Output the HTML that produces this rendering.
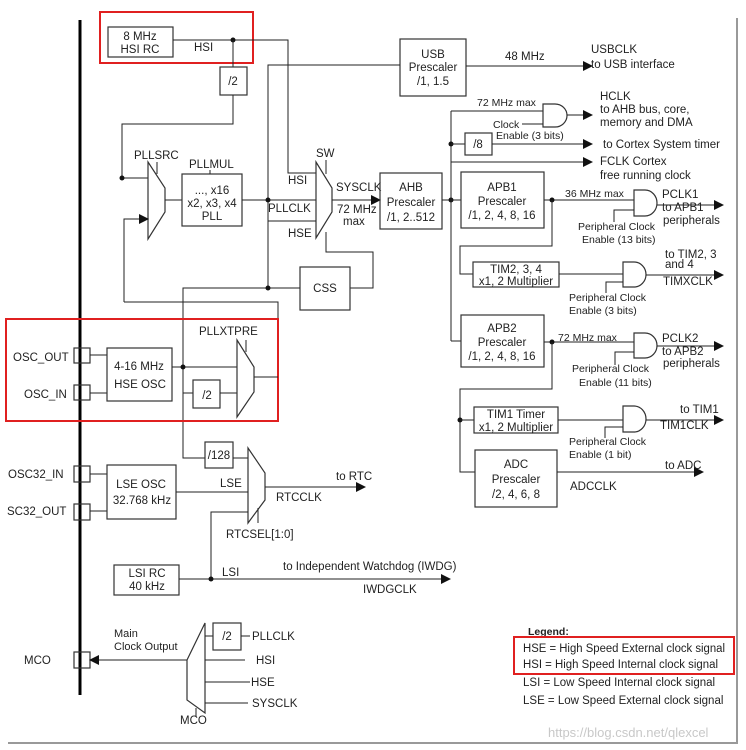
<!DOCTYPE html>
<html><head><meta charset="utf-8"><style>
html,body{margin:0;padding:0;background:#fff;}
svg{display:block;font-family:"Liberation Sans",Arial,sans-serif;}
text{font-size:11.5px;fill:#222;}
.b{fill:none;stroke:#333;stroke-width:1.2;}
.l{fill:none;stroke:#222;stroke-width:1;}
.r{fill:none;stroke:#e02020;stroke-width:2;}
.c{text-anchor:middle;}
</style></head><body>
<svg width="746" height="750" viewBox="0 0 746 750" xmlns="http://www.w3.org/2000/svg">
<defs><marker id="a" markerWidth="10" markerHeight="10" refX="9" refY="5" orient="auto" markerUnits="userSpaceOnUse"><path d="M0,0 L10,5 L0,10 Z" fill="#111"/></marker></defs>
<line x1="737" y1="18" x2="737" y2="744" stroke="#999" stroke-width="2"/>
<line x1="8" y1="743" x2="737" y2="743" stroke="#999" stroke-width="2"/>
<line x1="80" y1="20" x2="80" y2="695" stroke="#000" stroke-width="3"/>

<rect class="r" x="100" y="12" width="153" height="51"/>
<rect class="b" x="108" y="27" width="65" height="30"/>
<text class="c" x="140" y="40">8 MHz</text><text class="c" x="140" y="53">HSI RC</text>
<polyline class="l" points="173,40 288,40 288,173 316,173"/>
<text x="194" y="51">HSI</text>
<circle cx="233" cy="40" r="2.5" fill="#111"/>
<line class="l" x1="233" y1="40" x2="233" y2="67"/>
<rect class="b" x="220" y="67" width="27" height="28"/><text class="c" x="233" y="85">/2</text>
<polyline class="l" points="233,95 233,124 122,124 122,178 148,178"/>
<circle cx="122" cy="178" r="2.5" fill="#111"/>

<rect class="b" x="400" y="39" width="66" height="57"/>
<text class="c" x="433" y="58">USB</text><text class="c" x="433" y="71">Prescaler</text><text class="c" x="433" y="85">/1, 1.5</text>
<polyline class="l" points="400,65 268,65 268,288"/>
<line class="l" x1="466" y1="66" x2="592" y2="66" marker-end="url(#a)"/>
<text x="505" y="60">48 MHz</text>
<text x="591" y="53">USBCLK</text><text x="591" y="68">to USB interface</text>

<path class="b" d="M148,162 L165,188 L165,212 L148,239 Z"/>
<text x="134" y="159">PLLSRC</text>
<line class="l" x1="157" y1="162" x2="157" y2="174"/>
<polyline class="l" points="124,302 124,219 148,219" marker-end="url(#a)"/>
<line class="l" x1="165" y1="200" x2="182" y2="200"/>
<rect class="b" x="182" y="174" width="60" height="52"/>
<text x="189" y="168">PLLMUL</text>
<line class="l" x1="210" y1="170" x2="210" y2="174"/>
<text class="c" x="212" y="194">..., x16</text><text class="c" x="212" y="207">x2, x3, x4</text><text class="c" x="212" y="220">PLL</text>
<line class="l" x1="242" y1="200" x2="316" y2="200"/>
<circle cx="268" cy="200" r="2.5" fill="#111"/>
<text x="268" y="212">PLLCLK</text>
<text x="288" y="184">HSI</text>

<path class="b" d="M316,162 L332,188 L332,212 L316,238 Z"/>
<text x="316" y="157">SW</text>
<line class="l" x1="326" y1="160" x2="326" y2="174"/>
<line class="l" x1="268" y1="221" x2="316" y2="221"/>
<text x="288" y="237">HSE</text>
<line class="l" x1="332" y1="200" x2="380" y2="200" marker-end="url(#a)"/>
<text x="336" y="191">SYSCLK</text>
<text x="337" y="213">72 MHz</text><text x="343" y="225">max</text>
<rect class="b" x="380" y="173" width="62" height="56"/>
<text class="c" x="411" y="191">AHB</text><text class="c" x="411" y="206">Prescaler</text><text class="c" x="411" y="221">/1, 2..512</text>
<line class="l" x1="442" y1="200" x2="451" y2="200"/>
<circle cx="451" cy="200" r="2.5" fill="#111"/>

<polyline class="l" points="326,232 326,252 373,252 373,288 350,288"/>
<rect class="b" x="300" y="267" width="50" height="43"/><text class="c" x="325" y="292">CSS</text>
<polyline class="l" points="300,288 183,288 183,458 205,458"/>
<circle cx="268" cy="288" r="2.5" fill="#111"/>
<polyline class="l" points="124,302 278,302 278,377"/>

<rect class="r" x="6" y="319" width="272" height="102"/>
<text x="13" y="361">OSC_OUT</text><text x="24" y="398">OSC_IN</text>
<rect class="b" x="74" y="348" width="16" height="15"/><rect class="b" x="74" y="385" width="16" height="15"/>
<line class="l" x1="90" y1="355" x2="107" y2="355"/><line class="l" x1="90" y1="393" x2="107" y2="393"/>
<rect class="b" x="107" y="348" width="65" height="53"/>
<text class="c" x="139" y="370">4-16 MHz</text><text class="c" x="140" y="388">HSE OSC</text>
<line class="l" x1="172" y1="367" x2="237" y2="367"/>
<circle cx="183" cy="367" r="2.5" fill="#111"/>
<line class="l" x1="183" y1="393" x2="193" y2="393"/>
<rect class="b" x="193" y="380" width="27" height="28"/><text class="c" x="207" y="399">/2</text>
<line class="l" x1="220" y1="393" x2="237" y2="393"/>
<path class="b" d="M237,340 L254,367 L254,392 L237,417 Z"/>
<text x="199" y="335">PLLXTPRE</text>
<line class="l" x1="246" y1="340" x2="246" y2="352"/>
<line class="l" x1="254" y1="377" x2="278" y2="377"/>

<rect class="b" x="205" y="442" width="28" height="26"/><text class="c" x="219" y="459">/128</text>
<line class="l" x1="233" y1="458" x2="248" y2="458"/>
<path class="b" d="M248,448 L265,473 L265,500 L248,523 Z"/>
<line class="l" x1="258" y1="508" x2="258" y2="523"/>
<text x="226" y="538">RTCSEL[1:0]</text>
<line class="l" x1="265" y1="487" x2="365" y2="487" marker-end="url(#a)"/>
<text x="336" y="480">to RTC</text><text x="276" y="501">RTCCLK</text>
<text x="8" y="478">OSC32_IN</text><text x="7" y="515">SC32_OUT</text>
<rect class="b" x="74" y="466" width="16" height="16"/><rect class="b" x="74" y="504" width="16" height="16"/>
<line class="l" x1="90" y1="474" x2="107" y2="474"/><line class="l" x1="90" y1="511" x2="107" y2="511"/>
<rect class="b" x="107" y="465" width="69" height="54"/>
<text class="c" x="141" y="488">LSE OSC</text><text class="c" x="142" y="504">32.768 kHz</text>
<line class="l" x1="176" y1="492" x2="248" y2="492"/>
<text x="220" y="487">LSE</text>
<polyline class="l" points="248,512 211,512 211,579"/>
<rect class="b" x="114" y="565" width="65" height="30"/>
<text class="c" x="147" y="577">LSI RC</text><text class="c" x="147" y="590">40 kHz</text>
<line class="l" x1="179" y1="579" x2="450" y2="579" marker-end="url(#a)"/>
<circle cx="211" cy="579" r="2.5" fill="#111"/>
<text x="222" y="576">LSI</text>
<text x="283" y="570">to Independent Watchdog (IWDG)</text>
<text x="363" y="593">IWDGCLK</text>

<text x="24" y="664">MCO</text>
<rect class="b" x="74" y="652" width="16" height="16"/>
<line class="l" x1="187" y1="660" x2="90" y2="660" marker-end="url(#a)"/>
<text x="114" y="637" style="font-size:11px">Main</text><text x="114" y="650" style="font-size:11px">Clock Output</text>
<path class="b" d="M205,623 L187,660 L187,700 L205,713 Z"/>
<line class="l" x1="196" y1="708" x2="196" y2="717"/>
<text x="180" y="724">MCO</text>
<line class="l" x1="205" y1="636" x2="213" y2="636"/>
<rect class="b" x="213" y="623" width="28" height="27"/><text class="c" x="227" y="640">/2</text>
<line class="l" x1="241" y1="636" x2="250" y2="636"/>
<text x="252" y="640">PLLCLK</text>
<line class="l" x1="205" y1="660" x2="245" y2="660"/><text x="256" y="664">HSI</text>
<line class="l" x1="205" y1="682" x2="250" y2="682"/><text x="251" y="686">HSE</text>
<line class="l" x1="205" y1="703" x2="248" y2="703"/><text x="252" y="707">SYSCLK</text>

<text x="528" y="635" style="font-size:10.5px;font-weight:bold">Legend:</text>
<rect class="r" x="514" y="637" width="220" height="37"/>
<g style="font-size:10px">
<text x="523" y="652" textLength="202" lengthAdjust="spacingAndGlyphs">HSE = High Speed External clock signal</text>
<text x="523" y="668" textLength="195" lengthAdjust="spacingAndGlyphs">HSI = High Speed Internal clock signal</text>
<text x="523" y="686">LSI = Low Speed Internal clock signal</text>
<text x="523" y="704">LSE = Low Speed External clock signal</text>
</g>
<text x="548" y="737" style="font-size:13px;fill:#c8c8c8">https://blog.csdn.net/qlexcel</text>

<line class="l" x1="451" y1="111" x2="451" y2="341"/>
<line class="l" x1="451" y1="111" x2="543" y2="111"/>
<text x="477" y="106" style="font-size:10.5px">72 MHz max</text>
<path class="b" d="M543,104 H555 A12,11.5 0 0 1 555,127 H543 Z"/>
<line class="l" x1="567" y1="115" x2="592" y2="115" marker-end="url(#a)"/>
<line class="l" x1="522" y1="124" x2="543" y2="124"/>
<text x="493" y="128" style="font-size:10.5px">Clock</text><text x="496" y="139" style="font-size:10.5px">Enable (3 bits)</text>
<text x="600" y="100">HCLK</text><text x="600" y="113">to AHB bus, core,</text><text x="600" y="126">memory and DMA</text>
<circle cx="451" cy="144" r="2.5" fill="#111"/>
<line class="l" x1="451" y1="144" x2="465" y2="144"/>
<rect class="b" x="465" y="133" width="27" height="22"/><text class="c" x="478" y="148">/8</text>
<line class="l" x1="492" y1="144" x2="592" y2="144" marker-end="url(#a)"/>
<text x="603" y="148">to Cortex System timer</text>
<line class="l" x1="451" y1="162" x2="592" y2="162" marker-end="url(#a)"/>
<text x="600" y="165">FCLK Cortex</text><text x="600" y="179">free running clock</text>

<line class="l" x1="451" y1="200" x2="461" y2="200"/>
<rect class="b" x="461" y="172" width="83" height="56"/>
<text class="c" x="502" y="191">APB1</text><text class="c" x="502" y="205">Prescaler</text><text class="c" x="502" y="219">/1, 2, 4, 8, 16</text>
<line class="l" x1="544" y1="200" x2="634" y2="200"/>
<circle cx="552" cy="200" r="2.5" fill="#111"/>
<text x="565" y="197" style="font-size:10.5px">36 MHz max</text>
<path class="b" d="M634,190 H645 A12,13 0 0 1 645,216 H634 Z"/>
<line class="l" x1="657" y1="205" x2="723" y2="205" marker-end="url(#a)"/>
<polyline class="l" points="614,222 614,210 634,210"/>
<text x="578" y="230" style="font-size:10.5px">Peripheral Clock</text><text x="582" y="243" style="font-size:10.5px">Enable (13 bits)</text>
<text x="662" y="198">PCLK1</text><text x="662" y="211">to APB1</text><text x="663" y="224">peripherals</text>
<polyline class="l" points="552,200 552,246 460,246 460,274 473,274"/>
<rect class="b" x="473" y="262" width="86" height="25"/>
<text class="c" x="516" y="273">TIM2, 3, 4</text><text class="c" x="516" y="285">x1, 2 Multiplier</text>
<line class="l" x1="559" y1="274" x2="623" y2="274"/>
<path class="b" d="M623,262 H634 A12,12.5 0 0 1 634,287 H623 Z"/>
<line class="l" x1="646" y1="275" x2="723" y2="275" marker-end="url(#a)"/>
<polyline class="l" points="606,293 606,282 623,282"/>
<text x="569" y="301" style="font-size:10.5px">Peripheral Clock</text><text x="569" y="314" style="font-size:10.5px">Enable (3 bits)</text>
<text x="665" y="258">to TIM2, 3</text><text x="665" y="268">and 4</text><text x="663" y="285">TIMXCLK</text>

<line class="l" x1="451" y1="341" x2="461" y2="341"/>
<rect class="b" x="461" y="315" width="83" height="52"/>
<text class="c" x="502" y="332">APB2</text><text class="c" x="502" y="346">Prescaler</text><text class="c" x="502" y="360">/1, 2, 4, 8, 16</text>
<line class="l" x1="544" y1="342" x2="634" y2="342"/>
<circle cx="552" cy="342" r="2.5" fill="#111"/>
<text x="558" y="341" style="font-size:10.5px">72 MHz max</text>
<path class="b" d="M634,333 H645 A12,12.5 0 0 1 645,358 H634 Z"/>
<line class="l" x1="657" y1="346" x2="723" y2="346" marker-end="url(#a)"/>
<polyline class="l" points="615,365 615,352 634,352"/>
<text x="572" y="372" style="font-size:10.5px">Peripheral Clock</text><text x="579" y="386" style="font-size:10.5px">Enable (11 bits)</text>
<text x="662" y="342">PCLK2</text><text x="662" y="355">to APB2</text><text x="663" y="367">peripherals</text>
<polyline class="l" points="552,342 552,389 460,389 460,472 475,472"/>
<circle cx="460" cy="420" r="2.5" fill="#111"/>
<line class="l" x1="460" y1="420" x2="474" y2="420"/>
<rect class="b" x="474" y="407" width="84" height="26"/>
<text class="c" x="516" y="418">TIM1 Timer</text><text class="c" x="516" y="431">x1, 2 Multiplier</text>
<line class="l" x1="558" y1="420" x2="623" y2="420"/>
<path class="b" d="M623,406 H634 A12,13 0 0 1 634,432 H623 Z"/>
<line class="l" x1="646" y1="420" x2="723" y2="420" marker-end="url(#a)"/>
<polyline class="l" points="605,438 605,427 623,427"/>
<text x="569" y="445" style="font-size:10.5px">Peripheral Clock</text><text x="569" y="458" style="font-size:10.5px">Enable (1 bit)</text>
<text x="680" y="413">to TIM1</text><text x="660" y="429">TIM1CLK</text>
<rect class="b" x="475" y="450" width="82" height="57"/>
<text class="c" x="516" y="468">ADC</text><text class="c" x="516" y="483">Prescaler</text><text class="c" x="516" y="498">/2, 4, 6, 8</text>
<line class="l" x1="557" y1="472" x2="703" y2="472" marker-end="url(#a)"/>
<text x="665" y="469">to ADC</text><text x="570" y="490">ADCCLK</text>
</svg>
</body></html>
